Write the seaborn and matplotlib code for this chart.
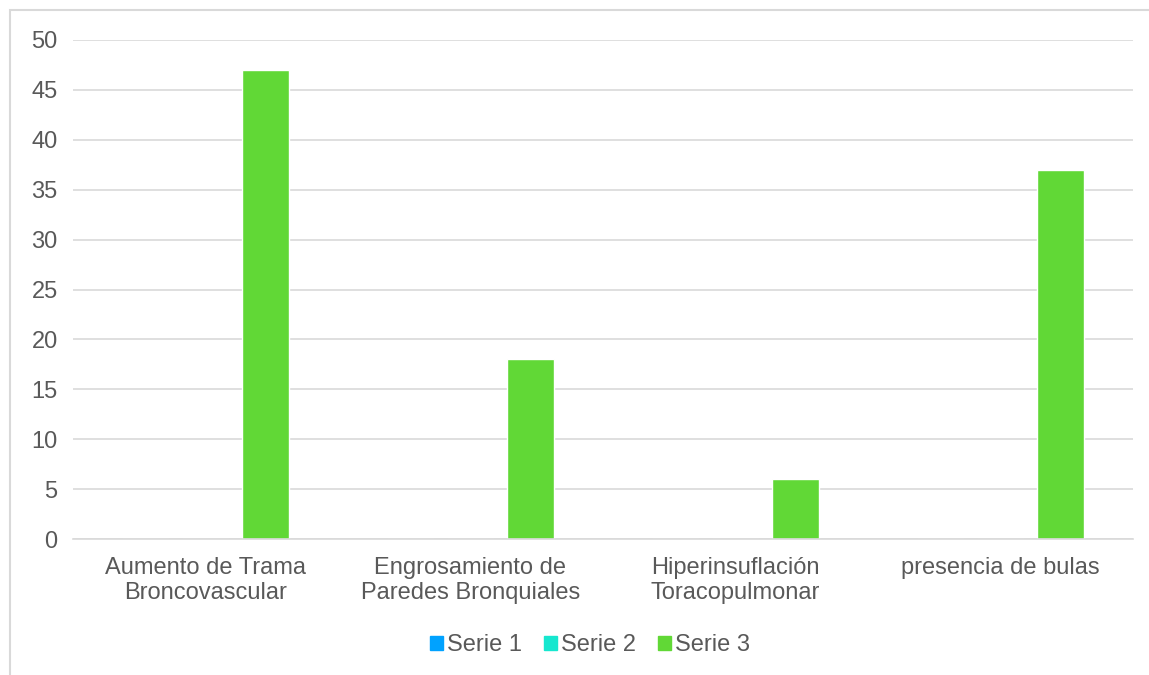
import pandas as pd
import matplotlib.pyplot as plt
import seaborn as sns
from matplotlib.patches import Rectangle

categories = ["Aumento de Trama\nBroncovascular", "Engrosamiento de\nParedes Bronquiales",
              "Hiperinsuflación\nToracopulmonar", "presencia de bulas"]
series_names = ["Serie 1", "Serie 2", "Serie 3"]
serie1 = [0, 0, 0, 0]
serie2 = [0, 0, 0, 0]
serie3 = [47, 18, 6, 37]
colors = ["#00A2FF", "#16E7CF", "#61D836"]
y_ticks = list(range(0, 55, 5))

df = pd.DataFrame({
    "categoria": categories * 3,
    "serie": [s for s in series_names for _ in categories],
    "valor": serie1 + serie2 + serie3,
})

sns.set_style("white")
plt.rcParams["font.family"] = ["Liberation Sans", "DejaVu Sans"]

fig = plt.figure(figsize=(11.49, 6.75), dpi=100)
ax = fig.add_axes([73 / 1149, 1 - 539 / 675, (1133 - 73) / 1149, (539 - 40) / 675])

sns.barplot(data=df, x="categoria", y="valor", hue="serie", palette=colors,
            width=0.68, gap=0.23, saturation=1, ax=ax, legend=False)

ax.set_ylim(0, 50)
ax.set_yticks(y_ticks)
ax.set_xlim(-0.5, 3.5)
ax.set_xlabel("")
ax.set_ylabel("")
ax.yaxis.grid(True, color="#D9D9D9", linewidth=1.2)
ax.set_axisbelow(True)
for side in ["top", "right", "left"]:
    ax.spines[side].set_visible(False)
ax.spines["bottom"].set_color("#D9D9D9")
ax.spines["bottom"].set_linewidth(1.2)
ax.tick_params(axis="both", length=0, labelsize=17, labelcolor="#595959")
ax.tick_params(axis="y", pad=11)
ax.tick_params(axis="x", pad=13)
for lbl in ax.get_xticklabels():
    lbl.set_linespacing(1.17)

# legend
handles = [Rectangle((0, 0), 1, 1, color=c) for c in colors]
fig.legend(handles, series_names, loc="center", bbox_to_anchor=(590 / 1149, 1 - 645 / 675),
           ncol=3, frameon=False, fontsize=17, labelcolor="#595959",
           handlelength=0.55, handleheight=0.55, handletextpad=0.2, columnspacing=0.9)

# outer chart border
fig.patches.append(Rectangle((10 / 1149, -0.1), 1.2, 1 - 10 / 675 + 0.1,
                             transform=fig.transFigure, fill=False,
                             edgecolor="#D9D9D9", linewidth=1.5))

fig.savefig("out.png", dpi=100)
